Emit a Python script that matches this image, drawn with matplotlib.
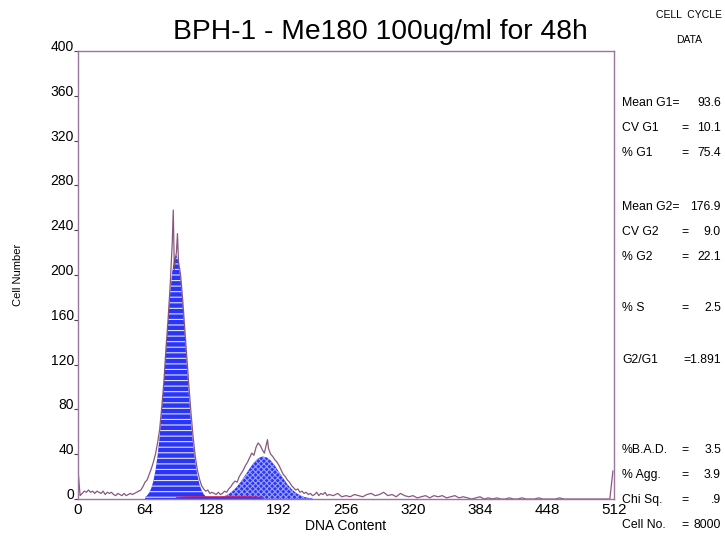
import matplotlib
matplotlib.use("Agg")
import matplotlib.pyplot as plt
import numpy as np

plt.rcParams["font.family"] = ["Liberation Sans", "DejaVu Sans"]
plt.rcParams["hatch.linewidth"] = 0.8

# raw DNA histogram (channel, count)
raw_ch = [0, 2, 4, 6, 8, 10, 12, 14, 16, 18, 20, 22, 24, 26, 28, 30, 32, 34, 36, 38,
          40, 42, 44, 46, 48, 50, 52, 54, 56, 58, 60, 62, 64, 66, 68, 70, 72, 74, 76, 78,
          80, 82, 84, 86, 88, 90, 91, 92, 93, 94, 95, 96, 98, 100, 102, 104, 106, 108, 110, 112,
          114, 116, 118, 120, 122, 124, 126, 128, 130, 132, 134, 136, 138, 140, 142, 144, 146, 148, 150, 152,
          154, 156, 158, 160, 162, 164, 166, 168, 170, 172, 174, 176, 178, 180, 181, 182, 184, 186, 188, 190,
          192, 194, 196, 198, 200, 202, 204, 206, 208, 210, 212, 214, 216, 218, 220, 222, 224, 226, 228, 230,
          232, 234, 236, 238, 240, 244, 248, 252, 256, 260, 264, 268, 272, 276, 280, 284, 288, 292, 296, 300,
          304, 308, 312, 316, 320, 324, 328, 332, 336, 340, 344, 348, 352, 356, 360, 364, 368, 372, 376, 380,
          384, 388, 392, 396, 400, 404, 408, 412, 416, 420, 424, 428, 432, 436, 440, 444, 448, 452, 456, 460,
          464, 468, 472, 476, 480, 484, 488, 492, 496, 500, 504, 508, 511]
raw_count = [26, 3, 5, 7, 6, 8, 6, 7, 5, 7, 6, 5, 7, 4, 6, 5, 6, 4, 3, 5,
             4, 3, 5, 3, 4, 5, 4, 5, 6, 7, 8, 11, 15, 17, 22, 27, 33, 40, 50, 62,
             82, 104, 134, 160, 190, 228, 258, 205, 215, 220, 237, 212, 200, 178, 152, 126, 100, 76, 55, 38,
             26, 18, 12, 9, 7, 8, 5, 6, 5, 4, 6, 4, 5, 7, 6, 9, 11, 14, 16, 15,
             20, 23, 26, 30, 33, 37, 41, 39, 46, 50, 48, 44, 41, 49, 53, 45, 40, 38, 35, 33,
             30, 26, 22, 20, 17, 15, 12, 10, 8, 9, 6, 7, 5, 6, 4, 5, 3, 4, 6, 3,
             5, 4, 6, 3, 4, 3, 5, 2, 3, 2, 4, 3, 2, 4, 5, 3, 4, 6, 3, 4,
             2, 5, 3, 2, 3, 1, 2, 3, 1, 3, 2, 3, 1, 2, 3, 1, 2, 1, 0, 1,
             2, 0, 1, 0, 1, 0, 0, 1, 0, 0, 1, 0, 0, 0, 1, 0, 0, 0, 0, 1,
             0, 0, 0, 0, 0, 0, 0, 0, 0, 0, 0, 0, 25]

# fitted G1 peak
g1_ch = [64, 66, 68, 70, 72, 74, 76, 78, 80, 82, 84, 86, 88, 90, 92, 94,
         96, 98, 100, 102, 104, 106, 108, 110, 112, 114, 116, 118, 120, 122, 124]
g1_fit = [1.6, 3.1, 5.6, 9.6, 16.0, 25.4, 38.5, 55.8, 77.4, 102.7, 130.1, 157.7, 182.8, 202.7, 214.9, 217.8,
          211.1, 195.6, 173.3, 146.9, 118.9, 92.1, 68.2, 48.3, 32.8, 21.2, 13.1, 7.8, 4.4, 2.4, 1.2]

# fitted G2 peak
g2_ch = [132, 136, 140, 144, 148, 152, 156, 160, 164, 168, 172, 176,
         180, 184, 188, 192, 196, 200, 204, 208, 212, 216, 220, 224]
g2_fit = [0.7, 1.4, 2.6, 4.5, 7.3, 11.1, 16.0, 21.6, 27.3, 32.5, 36.3, 37.9,
          37.3, 34.4, 29.8, 24.2, 18.5, 13.2, 8.9, 5.6, 3.3, 1.8, 1.0, 0.5]

# S phase plateau
s_ch = [94, 100, 110, 120, 130, 140, 150, 160, 170, 177]
s_fit = [1.5, 1.8, 2.0, 2.0, 2.0, 2.0, 2.0, 2.0, 1.8, 1.5]

x_ticks = [0, 64, 128, 192, 256, 320, 384, 448, 512]
y_ticks = [0, 40, 80, 120, 160, 200, 240, 280, 320, 360, 400]

stat_labels = ["Mean G1", "CV G1", "% G1", "Mean G2", "CV G2", "% G2", "% S", "G2/G1",
               "%B.A.D.", "% Agg.", "Chi Sq.", "Cell No."]
stat_values = ["93.6", "10.1", "75.4", "176.9", "9.0", "22.1", "2.5", "1.891",
               "3.5", "3.9", ".9", "8000"]
stat_rows_px = [103, 128, 153, 207, 232, 257, 308, 360, 450, 475, 500, 525]

frame = "#9c74a0"
trace = "#7a4670"
blue = "#2b35f5"

fig = plt.figure(figsize=(7.25, 5.42), dpi=100)
ax = fig.add_axes([78 / 725, 1 - 499 / 542, 536 / 725, 448 / 542])

ax.fill_between(g1_ch, g1_fit, 0, facecolor=blue, edgecolor="#dfe2ff", hatch="---", linewidth=0)
ax.fill_between(g2_ch, g2_fit, 0, facecolor=blue, edgecolor="#9aa0ff", hatch="xxxxxx", linewidth=0)
ax.fill_between(s_ch, s_fit, 0, facecolor=blue, linewidth=0)
ax.plot(s_ch, s_fit, color="#d0205a", linewidth=0.8)
ax.plot(raw_ch, raw_count, color=trace, linewidth=0.9, alpha=0.9)

ax.set_xlim(0, 512)
ax.set_ylim(0, 400)
ax.set_xticks(x_ticks)
ax.set_yticks(y_ticks)
ax.tick_params(axis="x", length=0, pad=3, labelsize=11)
ax.tick_params(axis="y", length=3, width=0.8, color="#444444", pad=0, labelsize=10)
for lab in ax.get_yticklabels():
    lab.set_va("baseline")
for side in ax.spines.values():
    side.set_color(frame)
    side.set_linewidth(1.0)

ax.set_xlabel("DNA Content", fontsize=10, labelpad=1)
ax.set_ylabel("Cell Number", fontsize=8, labelpad=20)

fig.text(380 / 725, 1 - 32 / 542, "BPH-1 - Me180 100ug/ml for 48h",
         ha="center", va="center", fontsize=20.3)
fig.text(689 / 725, 1 - 15 / 542, "CELL  CYCLE", ha="center", va="center", fontsize=7.5)
fig.text(689 / 725, 1 - 40 / 542, "DATA", ha="center", va="center", fontsize=7.5)

# cell cycle summary column: name at left, "=" in a column, value right-aligned
for name, val, ypx in zip(stat_labels, stat_values, stat_rows_px):
    y = 1 - ypx / 542
    if name.startswith("Mean"):
        fig.text(622 / 725, y, name + "=", ha="left", va="center", fontsize=8.8)
        fig.text(721 / 725, y, val, ha="right", va="center", fontsize=8.8)
        continue
    fig.text(622 / 725, y, name, ha="left", va="center", fontsize=8.8)
    if name == "G2/G1":
        fig.text(721 / 725, y, "=" + val, ha="right", va="center", fontsize=8.8)
    else:
        fig.text(685 / 725, y, "=", ha="center", va="center", fontsize=8.8)
        fig.text(721 / 725, y, val, ha="right", va="center", fontsize=8.8)

fig.savefig("out.png", dpi=100, facecolor="white")
plt.close(fig)
